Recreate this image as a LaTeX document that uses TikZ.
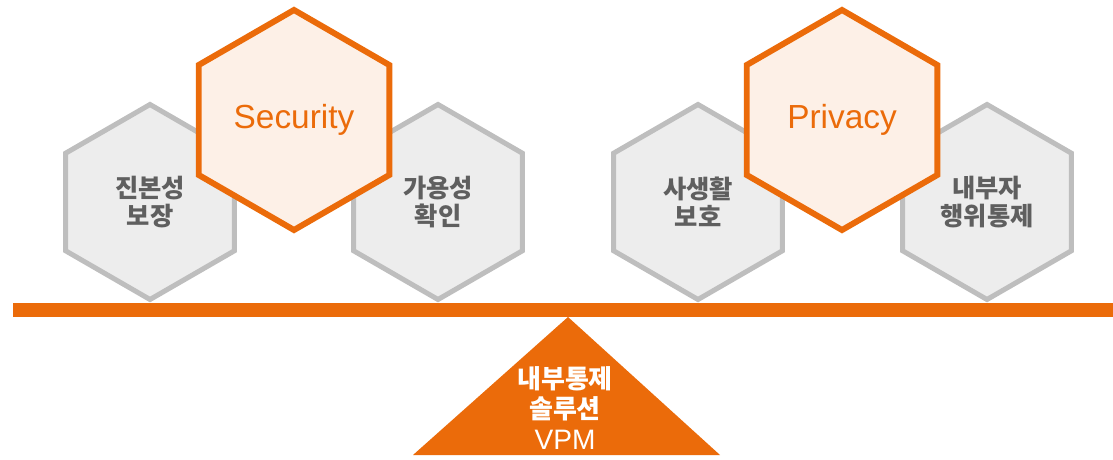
\documentclass[tikz,border=0pt]{standalone}
\usepackage{fontspec}
\setmainfont{Liberation Sans}
\newfontfamily\kr{Noto Sans CJK KR}
\usepackage{tikz}
\usetikzlibrary{shapes.geometric,positioning}
\definecolor{vpmorange}{RGB}{235,107,10}
\definecolor{vpmcream}{RGB}{253,240,231}
\definecolor{hexgray}{RGB}{190,190,190}
\definecolor{hexfill}{RGB}{237,237,237}
\definecolor{hextext}{RGB}{95,95,95}

\begin{document}
\begin{tikzpicture}[grayhex/.style={regular polygon,regular polygon sides=6,shape border rotate=30,draw=hexgray,fill=hexfill,line width=2.85pt,inner sep=0pt,minimum size=3.9cm,align=center,text=hextext,font=\kr\bfseries\fontsize{14.4}{16}\selectfont},
                    orangehex/.style={regular polygon,regular polygon sides=6,shape border rotate=30,draw=vpmorange,fill=vpmcream,line width=3.4pt,inner sep=0pt,minimum size=4.4cm,text=vpmorange,font=\fontsize{19}{22}\selectfont}]
            \useasboundingbox (0,0) rectangle (22.26,9.18);
            \node[grayhex] (integrity) at (3,5.14) {진본성\\보장};
            \node[grayhex] (availability) [on grid,right=5.76cm of integrity] {가용성\\확인};
            \node[grayhex] (lifeguard) [on grid,right=5.2cm of availability] {사생활\\보호};
            \node[grayhex] (insider) [on grid,right=5.78cm of lifeguard] {내부자\\행위통제};
            \node[orangehex] (security) [on grid,above right=1.64cm and 2.88cm of integrity] {Security};
            \node[orangehex] (privacy) [on grid,above right=1.64cm and 2.88cm of lifeguard] {Privacy};

            % balance bar and fulcrum
            \fill[vpmorange] (0.26,2.84) rectangle (22.26,3.12);
            \coordinate (apex) at (11.36,2.84);
            \coordinate (baseL) at (8.26,0.08);
            \coordinate (baseR) at (14.4,0.08);
            \fill[vpmorange] (apex) -- (baseL) -- (baseR) -- cycle;
            \node[text=white,align=center,font=\kr\bfseries\fontsize{14.8}{17.4}\selectfont] (vpm) at (11.3,1.02) {내부통제\\솔루션\\{\fontspec{Liberation Sans}\mdseries\fontsize{16}{17.4}\selectfont VPM}};
        \end{tikzpicture}
\end{document}
